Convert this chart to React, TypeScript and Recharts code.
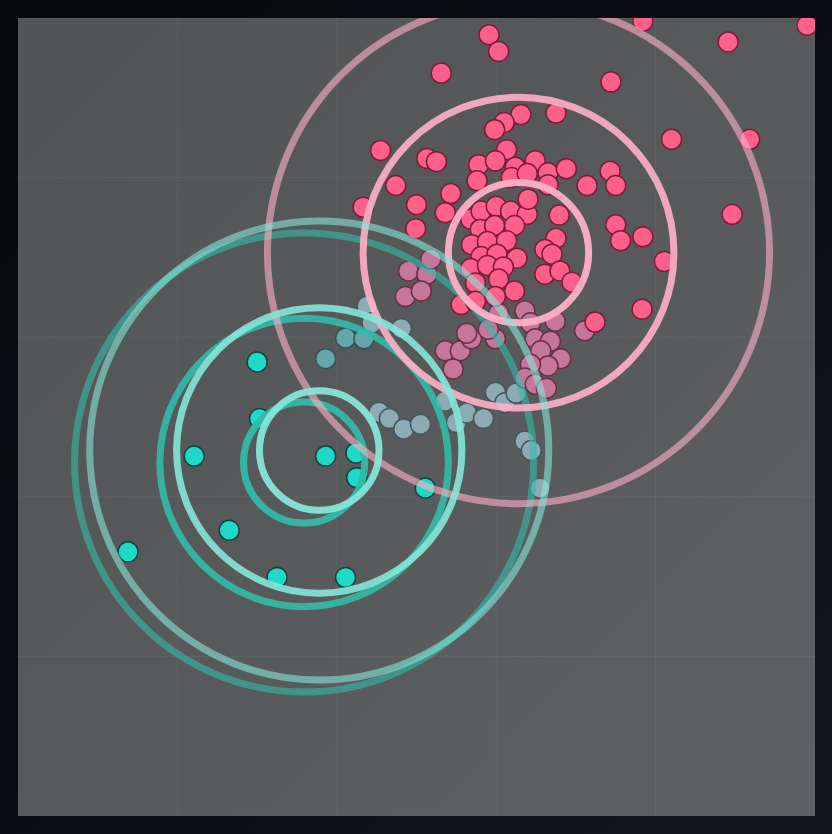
import { ScatterChart, Scatter, XAxis, YAxis, CartesianGrid } from "recharts";

// points, in axis units (0-100 on both axes)
const pinkPoints: [number, number][] = [
  [59.1, 97.9], [60.3, 95.8], [53.1, 93.1], [74.4, 92.0], [78.4, 99.6], [89.1, 97.0],
  [99.0, 99.1], [82.0, 84.8], [91.8, 84.8], [45.5, 83.4], [67.5, 88.1], [63.1, 87.9],
  [61.0, 86.9], [59.8, 86.0], [51.3, 82.4], [52.5, 82.0], [47.4, 79.0], [54.3, 78.0],
  [57.8, 81.6], [61.3, 83.5], [59.9, 82.1], [62.4, 81.3], [64.9, 82.1], [66.5, 80.6],
  [68.8, 81.1], [57.6, 79.6], [61.9, 80.0], [63.9, 80.5], [66.5, 79.1], [71.4, 79.0],
  [74.3, 80.8], [75.0, 79.0], [43.3, 76.3], [50.0, 76.6], [49.9, 73.6], [53.6, 75.6],
  [56.8, 74.8], [58.1, 75.8], [60.0, 76.4], [61.8, 75.8], [63.9, 75.4], [64.0, 77.3],
  [58.0, 73.5], [59.8, 74.0], [62.3, 74.0], [56.9, 71.6], [58.9, 72.0], [61.3, 72.1],
  [58.1, 70.1], [60.1, 70.4], [62.6, 69.9], [56.8, 68.6], [58.9, 69.0], [60.9, 68.8],
  [57.4, 66.8], [60.3, 67.3], [62.3, 65.8], [55.6, 64.1], [57.4, 64.5], [59.9, 65.1],
  [67.9, 75.3], [67.5, 72.4], [66.1, 71.0], [67.0, 70.4], [66.1, 67.9], [68.0, 68.3],
  [69.5, 66.9], [75.0, 74.1], [75.6, 72.1], [78.4, 72.6], [81.1, 69.5], [89.6, 75.4],
  [78.3, 63.5], [72.4, 61.9],
];

const mutedPinkPoints: [number, number][] = [
  [49.0, 68.3], [51.3, 67.9], [51.8, 69.8], [48.6, 65.1], [50.6, 65.8], [53.6, 58.3],
  [55.5, 58.3], [56.9, 59.8], [56.3, 60.5], [54.6, 56.0], [59.9, 59.8], [59.0, 61.0],
  [60.3, 63.0], [63.6, 63.3], [64.3, 61.8], [67.4, 62.0], [71.1, 60.8], [64.9, 59.8],
  [66.8, 59.5], [65.6, 58.3], [68.1, 57.3], [66.5, 56.4], [64.3, 56.6], [63.6, 54.9],
  [64.9, 54.1], [66.3, 53.6],
];

const blueGreyPoints: [number, number][] = [
  [43.8, 63.9], [44.4, 61.8], [48.1, 61.1], [45.3, 50.6], [46.6, 49.8], [48.4, 48.5],
  [50.5, 49.1], [53.6, 52.0], [55.0, 49.3], [56.3, 50.5], [58.4, 49.8], [59.9, 53.1],
  [61.1, 51.8], [62.5, 53.0], [63.6, 47.0], [64.4, 45.8], [65.5, 41.1],
];

const tealGreyPoints: [number, number][] = [
  [38.6, 57.3], [41.1, 59.9], [43.4, 59.8],
];

const tealPoints: [number, number][] = [
  [30.0, 56.9], [30.3, 49.8], [22.1, 45.1], [38.6, 45.1], [42.4, 45.5], [42.5, 42.4],
  [51.1, 41.1], [26.5, 35.8], [13.8, 33.1], [32.5, 29.9], [41.1, 29.9],
];

// cluster centres and ring radii (axis units)
const pinkCentre = { x: 62.8, y: 70.6 };
const pinkRadii = [8.8, 19.5, 31.5];
const tealCentre = { x: 37.8, y: 45.8 };
const tealRadii = [7.5, 17.9, 28.8];
const tealPrevCentre = { x: 35.9, y: 44.3 };
const tealPrevRadii = [7.6, 18.1, 28.8];

const axisTicks = [0, 20, 40, 60, 80, 100];

const PLOT_W = 797;
const PLOT_H = 798;
const UNIT_PX = PLOT_W / 100;
const RING_OPACITY = [0.95, 0.9, 0.6];

const toPoints = (list: [number, number][]) => list.map(([x, y]) => ({ x, y }));
const toRings = (c: { x: number; y: number }, radii: number[]) =>
  radii.map((r, i) => ({ x: c.x, y: c.y, r, ring: i }));

const dotShape = (fill: string, stroke: string) => (props: any) => (
  <circle cx={props.cx} cy={props.cy} r={10} fill={fill} stroke={stroke} strokeWidth={1.5} />
);

const ringShape = (stroke: string) => (props: any) => (
  <circle
    cx={props.cx}
    cy={props.cy}
    r={props.payload.r * UNIT_PX}
    fill="none"
    stroke={stroke}
    strokeWidth={7}
    strokeOpacity={RING_OPACITY[props.payload.ring]}
  />
);

export default function App() {
  return (
    <>
      <style>{`body{margin:0;background:linear-gradient(135deg,#07090c 0%,#0b0f14 60%,#121820 100%);}`}</style>
      <div style={{ width: 832, height: 834, position: "relative" }}>
        <div
          style={{
            position: "absolute",
            left: 18,
            top: 18,
            width: PLOT_W,
            height: PLOT_H,
            overflow: "hidden",
            background: "linear-gradient(135deg,#535455 0%,#58595b 50%,#5e6164 100%)",
          }}
        >
          <ScatterChart width={PLOT_W} height={PLOT_H} margin={{ top: 0, right: 0, bottom: 0, left: 0 }}>
            <CartesianGrid stroke="rgba(255,255,255,0.05)" strokeWidth={1} />
            <XAxis type="number" dataKey="x" domain={[0, 100]} ticks={axisTicks} hide />
            <YAxis type="number" dataKey="y" domain={[0, 100]} ticks={axisTicks} hide />
            <Scatter data={toPoints(tealPoints)} shape={dotShape("#1fd8c6", "#0b4640")} isAnimationActive={false} />
            <Scatter data={toPoints(tealGreyPoints)} shape={dotShape("#64a6ac", "#2f5559")} isAnimationActive={false} />
            <Scatter data={toPoints(blueGreyPoints)} shape={dotShape("#8eaab5", "#46565f")} isAnimationActive={false} />
            <Scatter data={toPoints(mutedPinkPoints)} shape={dotShape("#c6769a", "#6b3048")} isAnimationActive={false} />
            <Scatter data={toPoints(pinkPoints)} shape={dotShape("#ff5f8b", "#7d1d3c")} isAnimationActive={false} />
            <Scatter data={toRings(tealPrevCentre, tealPrevRadii)} shape={ringShape("#33bba9")} isAnimationActive={false} />
            <Scatter data={toRings(pinkCentre, pinkRadii)} shape={ringShape("#ffb0c8")} isAnimationActive={false} />
            <Scatter data={toRings(tealCentre, tealRadii)} shape={ringShape("#86e6d8")} isAnimationActive={false} />
          </ScatterChart>
        </div>
      </div>
    </>
  );
}
